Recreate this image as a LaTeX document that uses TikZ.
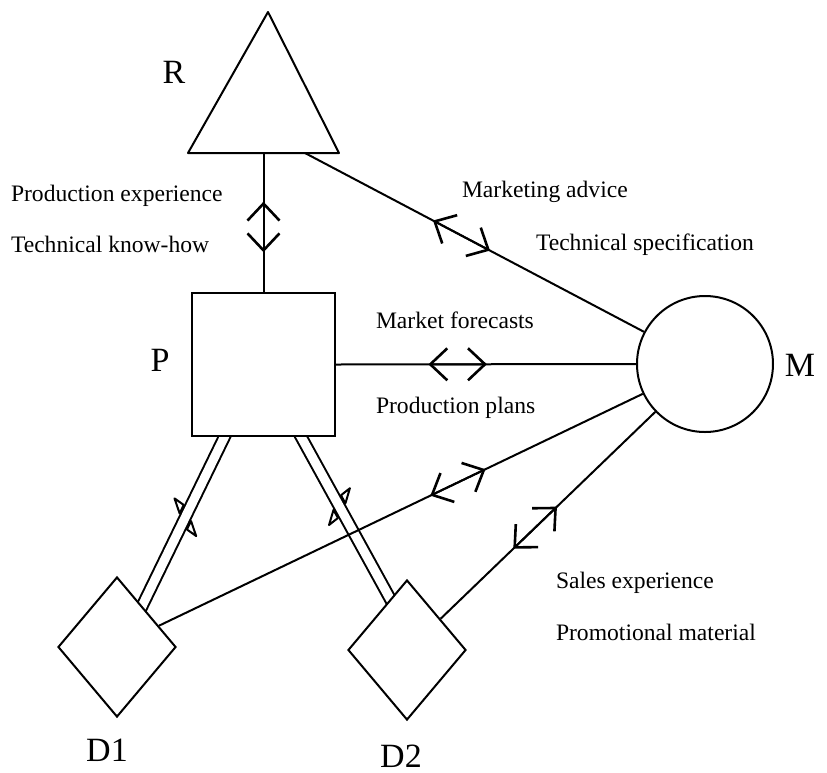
\documentclass[tikz,border=0pt]{standalone}
\usepackage{fontspec}
\setmainfont{Liberation Serif}
\usetikzlibrary{arrows.meta,calc,shapes.geometric,backgrounds}

\tikzset{
  flow/.style={{Straight Barb[length=8.5pt,width=16pt,line width=1.3pt]}-{Straight Barb[length=8.5pt,width=16pt,line width=1.3pt]}},
  item/.style={anchor=west,inner sep=0pt,font=\fontsize{11.8}{14}\selectfont},
  tag/.style={inner sep=0pt,font=\fontsize{17}{20}\selectfont},
  dealer/.style={draw,fill=white,diamond,inner sep=0pt,minimum width=59pt,minimum height=70pt},
  pipe/.style={line width=1pt,double,double distance=4.5pt,shorten <=-3pt,shorten >=-3pt},
  barb/.style={line width=1pt,line join=round},
}

\begin{document}
\begin{tikzpicture}[x=0.5pt,y=-0.5pt,line width=1pt]
   \useasboundingbox (0,0) rectangle (827,773);
   \node[draw,fill=white,inner sep=0pt,minimum size=71.5pt] (P) at (263.5,364.5) {};
   \node[draw,circle,inner sep=0pt,minimum size=68pt] (M) at (705,364) {};
   \node[dealer] (D1) at (117,647) {};
   \node[dealer] (D2) at (407,650) {};
   \draw[line join=round] (268,12) -- (188,153) -- (339,153) -- cycle;
   \coordinate (Rfoot) at (P.north |- 0,153);
   \coordinate (Rside) at (305,153);
  %
   \node[tag] (Rlab) at (174,72) {R};
   \node[tag] (Plab) at (160,360) {P};
   \node[tag] (Mlab) at (800,365) {M};
   \node[tag] (D1lab) at (107,750) {D1};
   \node[tag] (D2lab) at (401,756) {D2};
  %
   \node[item] (pexp) at (10,196) {Production experience};
   \node[item] (know) at (10,244) {Technical know-how};
   \node[item] (madv) at (461,192) {Marketing advice};
   \node[item] (spec) at (535,245) {Technical specification};
   \node[item] (fore) at (375,320) {Market forecasts};
   \node[item] (plan) at (375,408) {Production plans};
   \node[item] (sexp) at (555,583) {Sales experience};
   \node[item] (prom) at (555,632) {Promotional material};
  %
   \draw (Rfoot) -- (P.north);
   \draw[flow] ($(Rfoot)!0.714!(P.north)$) -- ($(Rfoot)!0.35!(P.north)$);
   \draw (Rside) -- (M);
   \draw[flow] ($(Rside)!0.32!(M.center)$) -- ($(Rside)!0.4625!(M.center)$);
   \draw (P.east) -- (M.west);
   \draw[flow] ($(P.east)!0.308!(M.west)$) -- ($(P.east)!0.503!(M.west)$);
   \coordinate (D1r) at ($(D1.north)!0.7!(D1.east)$);
   \coordinate (D2r) at ($(D2.north)!0.56!(D2.east)$);
   \draw (D1r) -- (M);
   \draw[flow] ($(D1r)!0.497!(M.center)$) -- ($(D1r)!0.598!(M.center)$);
   \draw (D2r) -- (M);
   \draw[flow] ($(D2r)!0.275!(M.center)$) -- ($(D2r)!0.44!(M.center)$);
  %
   \coordinate (P1) at ($(P.south west)!0.23!(P.south east)$);
   \coordinate (P2) at ($(P.south west)!0.76!(P.south east)$);
   \coordinate (D1t) at ($(D1.north)!0.42!(D1.east)$);
   \coordinate (D2t) at ($(D2.north)!0.28!(D2.west)$);
   \begin{scope}[on background layer]
   \draw[pipe] (P1) -- (D1t);
   \draw[pipe] (P2) -- (D2t);
   \end{scope}
   \draw[barb] ($(P1)!0.41!(D1t)!9pt!-90:(D1t)$) -- ($(P1)!0.42!(D1t)!3.4pt!-90:(D1t)$)
      -- ($(P1)!0.47!(D1t)!3.4pt!-90:(D1t)$) -- cycle;
   \draw[barb] ($(P1)!0.54!(D1t)!9pt!90:(D1t)$) -- ($(P1)!0.53!(D1t)!3.4pt!90:(D1t)$)
      -- ($(P1)!0.48!(D1t)!3.4pt!90:(D1t)$) -- cycle;
   \draw[barb] ($(P2)!0.49!(D2t)!9pt!-90:(D2t)$) -- ($(P2)!0.48!(D2t)!3.4pt!-90:(D2t)$)
      -- ($(P2)!0.43!(D2t)!3.4pt!-90:(D2t)$) -- cycle;
   \draw[barb] ($(P2)!0.37!(D2t)!9pt!90:(D2t)$) -- ($(P2)!0.38!(D2t)!3.4pt!90:(D2t)$)
      -- ($(P2)!0.43!(D2t)!3.4pt!90:(D2t)$) -- cycle;
\end{tikzpicture}
\end{document}
